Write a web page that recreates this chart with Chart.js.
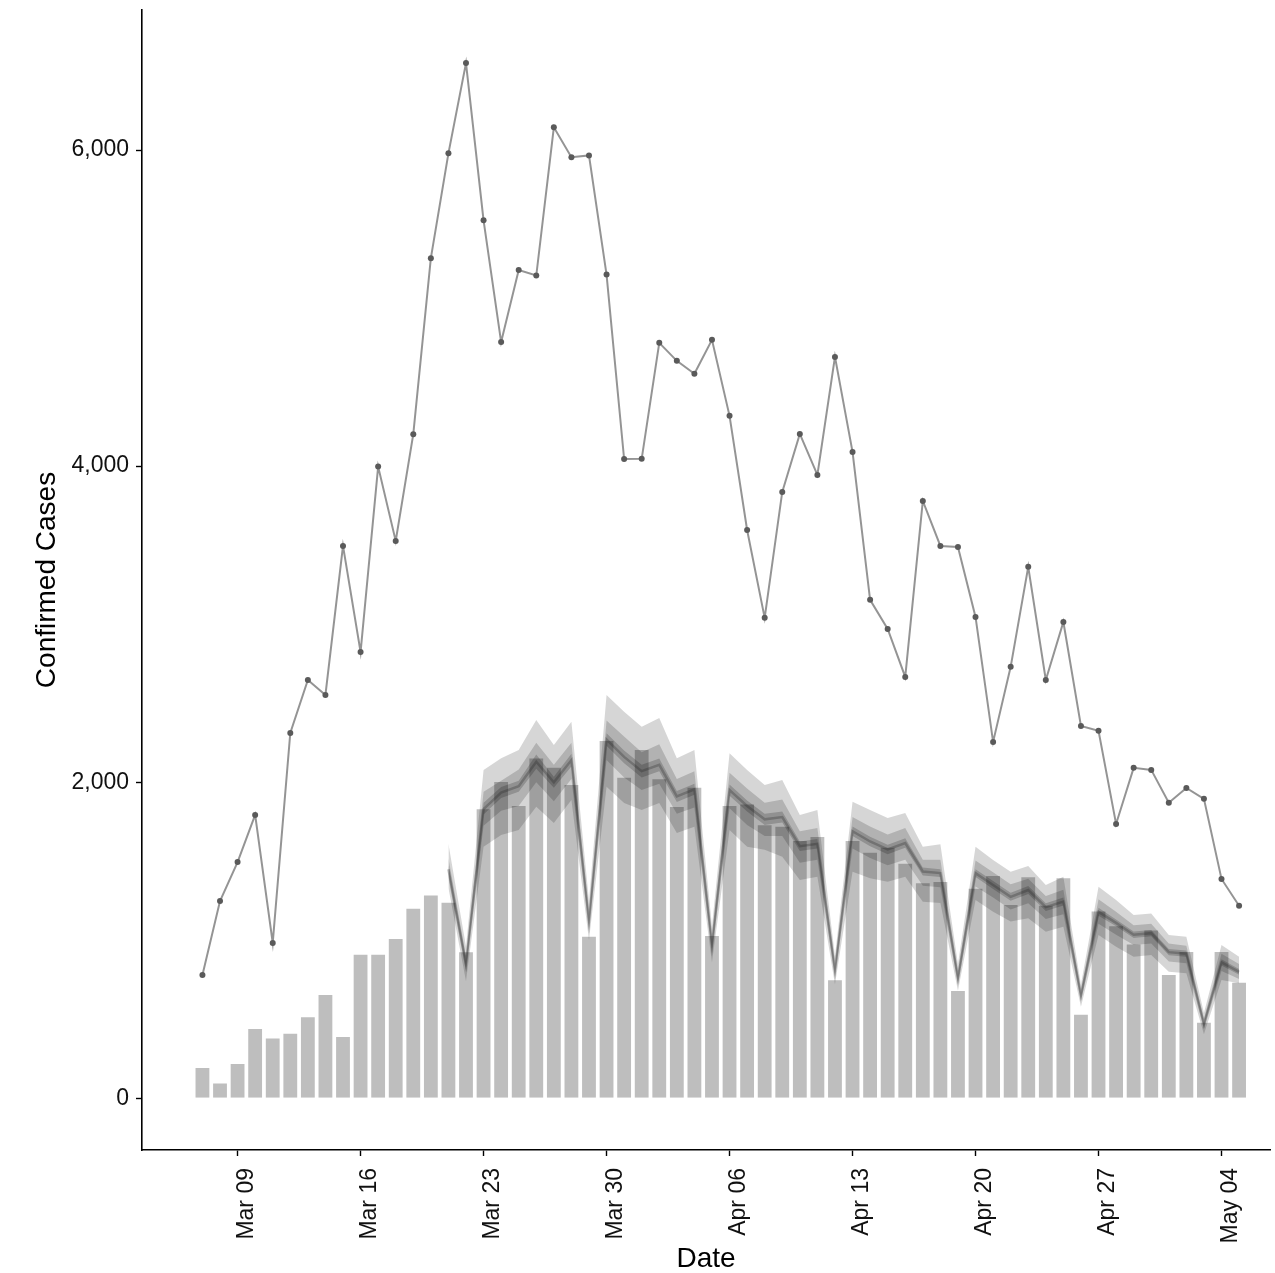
<!DOCTYPE html>
<html>
<head>
<meta charset="utf-8">
<script src="https://cdn.jsdelivr.net/npm/chart.js@4.4.1/dist/chart.umd.min.js"></script>
<style>
  html, body { margin: 0; padding: 0; background: #fff; }
  #chart { display: block; }
</style>
</head>
<body>
<canvas id="chart" width="1275" height="1273" style="width:1275px;height:1273px;"></canvas>
<script>
// day index 0 = Mar 07, 59 = May 05
const xTickIdx    = [2, 9, 16, 23, 30, 37, 44, 51, 58];
const xTickLabels = ['Mar 09', 'Mar 16', 'Mar 23', 'Mar 30', 'Apr 06', 'Apr 13', 'Apr 20', 'Apr 27', 'May 04'];
const yTicks      = [0, 2000, 4000, 6000];

// daily bars
const dailyCases = [
  198, 100, 223, 445, 385, 415, 520, 660, 395, 915,
  915, 1015, 1205, 1290, 1244, 930, 1835, 2008, 1856, 2157,
  2098, 1989, 1029, 2267, 2035, 2210, 2025, 1849, 1971, 1033,
  1856, 1866, 1734, 1725, 1634, 1660, 753, 1634, 1560, 1592,
  1491, 1367, 1375, 685, 1333, 1413, 1230, 1405, 1225, 1398,
  535, 1188, 1095, 980, 1068, 786, 932, 485, 932, 738
];

// line with points
const confirmed = [
  780, 1248, 1495, 1793, 983, 2312, 2647, 2552, 3495, 2824,
  3997, 3527, 4202, 5316, 5979, 6550, 5555, 4785, 5241, 5206,
  6144, 5955, 5966, 5212, 4045, 4046, 4780, 4666, 4584, 4799,
  4318, 3596, 3040, 3837, 4204, 3944, 4691, 4090, 3154, 2970,
  2666, 3780, 3495, 3489, 3046, 2255, 2730, 3363, 2647, 3014,
  2356, 2325, 1736, 2091, 2078, 1870, 1964, 1895, 1388, 1218
];

// model bands, from Mar 21 (index 14) to May 05
const bandStart = 14;
const outerHi = [1610, 960, 2078, 2151, 2204, 2394, 2235, 2383, 1250, 2552, 2446, 2351, 2406, 2151, 2204, 1090,
  2183, 2078, 1982, 2014, 1792, 1824, 900, 1877, 1824, 1773, 1805, 1592, 1607, 850,
  1592, 1508, 1434, 1470, 1350, 1402, 720, 1339, 1255, 1160, 1170, 1033, 1022, 540, 970, 896];
const midHi = [1520, 900, 1940, 2010, 2080, 2250, 2110, 2250, 1180, 2390, 2290, 2190, 2240, 2020, 2070, 1030,
  2060, 1960, 1870, 1890, 1690, 1710, 855, 1780, 1720, 1670, 1710, 1510, 1510, 805,
  1505, 1430, 1355, 1390, 1280, 1320, 685, 1260, 1180, 1095, 1105, 980, 965, 505, 915, 850];
const innerHi = [1475, 870, 1870, 1970, 2010, 2175, 2035, 2180, 1140, 2310, 2200, 2110, 2150, 1945, 1990, 990,
  1985, 1885, 1800, 1815, 1625, 1640, 825, 1720, 1655, 1605, 1645, 1460, 1450, 775,
  1450, 1375, 1300, 1343, 1235, 1270, 662, 1205, 1132, 1055, 1065, 945, 935, 482, 880, 818];
const median = [1450, 850, 1830, 1935, 1975, 2130, 2000, 2140, 1120, 2270, 2160, 2070, 2110, 1910, 1955, 970,
  1950, 1850, 1765, 1780, 1595, 1610, 810, 1690, 1625, 1575, 1615, 1435, 1425, 760,
  1425, 1350, 1275, 1318, 1210, 1245, 650, 1180, 1110, 1035, 1045, 925, 915, 470, 860, 800];
const innerLo = [1425, 830, 1795, 1900, 1940, 2085, 1965, 2100, 1100, 2230, 2120, 2030, 2070, 1875, 1920, 950,
  1915, 1815, 1730, 1745, 1565, 1580, 795, 1660, 1595, 1545, 1585, 1410, 1400, 745,
  1400, 1325, 1250, 1293, 1185, 1220, 638, 1155, 1088, 1015, 1025, 905, 895, 458, 840, 782];
const midLo = [1390, 800, 1725, 1820, 1850, 2000, 1880, 2020, 1060, 2140, 2030, 1950, 1990, 1800, 1840, 915,
  1835, 1730, 1660, 1660, 1490, 1510, 765, 1580, 1520, 1475, 1510, 1345, 1335, 720,
  1340, 1270, 1195, 1235, 1135, 1165, 615, 1105, 1035, 970, 980, 865, 855, 435, 805, 755];
const outerLo = [1330, 740, 1592, 1666, 1698, 1845, 1742, 1887, 1000, 1971, 1868, 1824, 1868, 1678, 1718, 860,
  1698, 1592, 1572, 1529, 1381, 1402, 720, 1434, 1393, 1371, 1402, 1244, 1236, 680,
  1255, 1181, 1118, 1139, 1054, 1086, 580, 1033, 959, 896, 907, 801, 791, 405, 749, 728];

const FONT = "'Liberation Sans', Arial, Helvetica, sans-serif";
Chart.defaults.font.family = FONT;
Chart.defaults.color = '#111';

const pts = arr => arr.map((v, i) => ({ x: i, y: v }));
const bandPts = arr => arr.map((v, i) => ({ x: bandStart + i, y: v }));

function band(arr, fillColor, order) {
  return {
    type: 'line', data: bandPts(arr), order,
    fill: fillColor ? '+1' : false,
    backgroundColor: fillColor || 'transparent',
    borderWidth: 0, pointRadius: 0, tension: 0
  };
}

new Chart(document.getElementById('chart'), {
  data: {
    datasets: [
      {
        type: 'bar', data: pts(dailyCases), order: 10,
        backgroundColor: '#bebebe', borderColor: '#ffffff', borderWidth: 1,
        borderSkipped: 'start', barPercentage: 0.9, categoryPercentage: 1.0
      },
      band(outerHi, 'rgba(0,0,0,0.16)', 6),
      band(outerLo, null, 6),
      band(midHi, 'rgba(0,0,0,0.17)', 5),
      band(midLo, null, 5),
      band(innerHi, 'rgba(0,0,0,0.19)', 4),
      band(innerLo, null, 4),
      {
        type: 'line', data: bandPts(median), order: 3,
        borderColor: 'rgba(40,40,40,0.3)', borderWidth: 2.5, pointRadius: 0, tension: 0, fill: false
      },
      {
        type: 'line', data: pts(confirmed), order: 1,
        borderColor: 'rgba(0,0,0,0.42)', borderWidth: 2, tension: 0, fill: false,
        pointRadius: 3, pointBackgroundColor: '#5a5a5a', pointBorderWidth: 0
      }
    ]
  },
  options: {
    responsive: false, animation: false,
    layout: { padding: { top: 10, right: 5, left: 0, bottom: 0 } },
    plugins: { legend: { display: false }, tooltip: { enabled: false } },
    scales: {
      x: {
        type: 'linear', min: -3.44, max: 60.76, offset: false,
        afterFit: s => { s.height = 123; s.paddingLeft = 0; s.paddingRight = 0; },
        afterBuildTicks: s => { s.ticks = xTickIdx.map(v => ({ value: v })); },
        grid: { drawOnChartArea: false, drawTicks: true, tickLength: 6, tickColor: '#000', tickWidth: 1.4, offset: false },
        border: { display: true, color: '#000', width: 1.6 },
        ticks: {
          autoSkip: false, minRotation: 90, maxRotation: 90, padding: 12, labelOffset: 9,
          font: { size: 23 }, color: '#111',
          callback: (v, i) => xTickLabels[i]
        },
        title: { display: true, text: 'Date', font: { size: 28, lineHeight: 1 }, color: '#000', padding: { top: 0, bottom: 0 } }
      },
      y: {
        type: 'linear', min: -327, max: 6886,
        afterFit: s => { s.width = 142; s.paddingTop = 0; s.paddingBottom = 0; },
        afterBuildTicks: s => { s.ticks = yTicks.map(v => ({ value: v })); },
        grid: { drawOnChartArea: false, drawTicks: true, tickLength: 6, tickColor: '#000', tickWidth: 1.4 },
        border: { display: true, color: '#000', width: 1.6 },
        ticks: {
          padding: 7, font: { size: 23 }, color: '#111',
          callback: v => v.toLocaleString('en-US')
        },
        title: { display: true, text: 'Confirmed Cases', font: { size: 28, lineHeight: 1 }, color: '#000', padding: { top: 33, bottom: 0 } }
      }
    }
  }
});
</script>
</body>
</html>
